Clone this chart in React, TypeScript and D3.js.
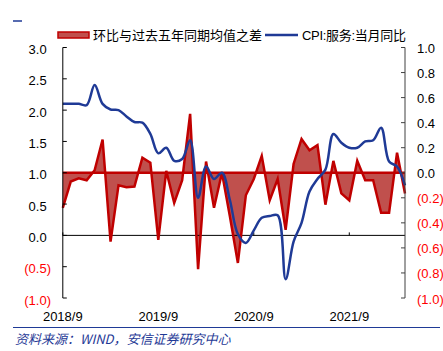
import React from 'react';
import * as d3 from 'd3';

const months = [
  '2018/9', '2018/10', '2018/11', '2018/12',
  '2019/1', '2019/2', '2019/3', '2019/4', '2019/5', '2019/6', '2019/7', '2019/8', '2019/9', '2019/10', '2019/11', '2019/12',
  '2020/1', '2020/2', '2020/3', '2020/4', '2020/5', '2020/6', '2020/7', '2020/8', '2020/9', '2020/10', '2020/11', '2020/12',
  '2021/1', '2021/2', '2021/3', '2021/4', '2021/5', '2021/6', '2021/7', '2021/8', '2021/9', '2021/10', '2021/11', '2021/12',
  '2022/1', '2022/2', '2022/3', '2022/4',
];

// 环比与过去五年同期均值之差 (right axis)
const diffValues = [
  -0.28, -0.07, -0.045, -0.06,
  0.02, 0.265, -0.55, -0.1, -0.115, -0.11, 0.12, 0.08, -0.535, 0.015, -0.24, -0.06,
  0.47, -0.77, 0.09, -0.28, 0.0, -0.35, -0.72, -0.18, -0.05, 0.135, -0.22, -0.05,
  -0.455, 0.07, 0.27, 0.18, 0.22, -0.255, 0.095, -0.165, -0.22, 0.095, -0.06, -0.06,
  -0.32, -0.32, 0.16, -0.165,
];

// CPI:服务:当月同比 (left axis)
const cpiServices = [
  2.1, 2.1, 2.1, 2.08,
  2.4, 2.1, 2.01, 2.0, 1.9, 1.81, 1.8, 1.62, 1.31, 1.4, 1.19, 1.22,
  1.52, 0.6, 1.1, 0.9, 1.0, 0.56, 0.02, -0.12, 0.08, 0.28, 0.31, 0.32,
  -0.7, -0.1, 0.2, 0.7, 0.9, 1.05, 1.62, 1.48, 1.4, 1.4, 1.5, 1.52,
  1.72, 1.18, 1.1, 0.8,
];

const xTickLabels = ['2018/9', '2019/9', '2020/9', '2021/9'];
const leftTicks = [3.0, 2.5, 2.0, 1.5, 1.0, 0.5, 0.0, -0.5, -1.0];
const rightTicks = [1.0, 0.8, 0.6, 0.4, 0.2, 0.0, -0.2, -0.4, -0.6, -0.8, -1.0];
const legendLabels = ['环比与过去五年同期均值之差', 'CPI:服务:当月同比'];
const sourceText = '资料来源：WIND，安信证券研究中心';

const W = 443;
const H = 351;
const L = 62.8;
const R = 405;
const T = 47.5;
const B = 298;

const RED = '#c00000';
const RED_FILL = '#c0504d';
const BLUE = '#1f3a96';
const FONT = '"Liberation Sans", Arial, "Noto Sans CJK SC", sans-serif';

const fmt = d3.format('.1f');
const lab = (v: number) => (v < 0 ? `(${fmt(-v)})` : fmt(v));

export default function App() {
  const x = d3.scalePoint<string>().domain(months).range([L, R]);
  const yL = d3.scaleLinear().domain([-1, 3]).range([B, T]);
  const yR = d3.scaleLinear().domain([-1, 1]).range([B, T]);

  const area = d3
    .area<number>()
    .x((_, i) => x(months[i]) as number)
    .y0(yR(0))
    .y1((d) => yR(d));
  const redLine = d3
    .line<number>()
    .x((_, i) => x(months[i]) as number)
    .y((d) => yR(d));
  const blueLine = d3
    .line<number>()
    .x((_, i) => x(months[i]) as number)
    .y((d) => yL(d))
    .curve(d3.curveCatmullRom.alpha(0.5));

  return (
    <svg
      width={W}
      height={H}
      style={{ position: 'absolute', left: 0, top: 0, background: '#fff' }}
      fontFamily={FONT}
    >
      <rect x={0} y={0} width={W} height={H} fill="#fff" />
      {/* small dash top-left */}
      <line x1={13} x2={22} y1={21} y2={21} stroke={BLUE} strokeWidth={1.5} />

      {/* legend */}
      <rect x={58} y={32} width={31} height={6} fill={RED_FILL} stroke={RED} strokeWidth={1.5} />
      <text x={93} y={35} fontSize={13} dominantBaseline="central" fill="#000">
        {legendLabels[0]}
      </text>
      <line x1={265} x2={298} y1={35} y2={35} stroke={BLUE} strokeWidth={2.5} />
      <text x={302} y={35} fontSize={13} dominantBaseline="central" fill="#000" letterSpacing={-0.3}>
        {legendLabels[1]}
      </text>

      {/* red area */}
      <path d={area(diffValues) || ''} fill={RED_FILL} />
      {/* x axis at left 0 */}
      <line x1={L} x2={R} y1={yL(0)} y2={yL(0)} stroke="#000" strokeWidth={1} />
      {xTickLabels.map((m) => (
        <line key={m} x1={x(m)} x2={x(m)} y1={yL(0) - 3} y2={yL(0)} stroke="#000" strokeWidth={1} />
      ))}
      {/* red zero line */}
      <line x1={L} x2={R} y1={yR(0)} y2={yR(0)} stroke={RED} strokeWidth={2.5} />
      <path d={redLine(diffValues) || ''} fill="none" stroke={RED} strokeWidth={2.5} strokeLinejoin="miter" />
      <path d={blueLine(cpiServices) || ''} fill="none" stroke={BLUE} strokeWidth={2.5} />

      {/* left axis */}
      <line x1={L} x2={L} y1={T} y2={B} stroke="#000" strokeWidth={1} />
      {leftTicks.map((v) => (
        <g key={v}>
          <line x1={L} x2={L + 4} y1={yL(v)} y2={yL(v)} stroke="#000" strokeWidth={1} />
          <text
            x={51}
            y={yL(v) + 2}
            fontSize={13}
            textAnchor="end"
            dominantBaseline="central"
            fill={v < 0 ? '#ff0000' : '#000'}
          >
            {lab(v)}
            {v >= 0 ? <tspan fillOpacity={0}>)</tspan> : null}
          </text>
        </g>
      ))}

      {/* right axis */}
      <line x1={R} x2={R} y1={T} y2={B} stroke="#404040" strokeWidth={1} />
      {rightTicks.map((v) => (
        <g key={v}>
          <line x1={R - 4} x2={R} y1={yR(v)} y2={yR(v)} stroke="#404040" strokeWidth={1} />
          <text
            x={417}
            y={yR(v) + 1}
            fontSize={13}
            textAnchor="start"
            dominantBaseline="central"
            fill={v < 0 ? '#ff0000' : '#000'}
          >
            {lab(v)}
          </text>
        </g>
      ))}

      {/* x labels */}
      {xTickLabels.map((m) => (
        <text key={m} x={x(m)} y={316} fontSize={13} textAnchor="middle" dominantBaseline="central" fill="#000">
          {m}
        </text>
      ))}

      {/* bottom rule and source */}
      <line x1={13} x2={440} y1={327.5} y2={327.5} stroke={BLUE} strokeWidth={1.2} />
      <text
        x={15}
        y={338}
        fontSize={13}
        fontStyle="italic"
        dominantBaseline="central"
        fill={BLUE}
        fontFamily='"Noto Sans CJK SC", sans-serif'
      >
        {sourceText}
      </text>
    </svg>
  );
}
